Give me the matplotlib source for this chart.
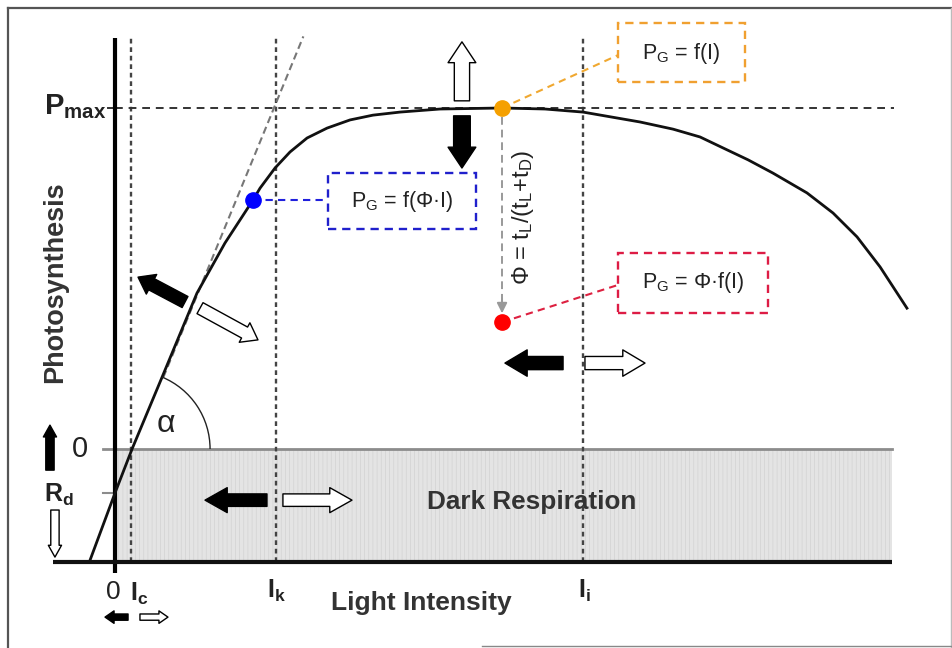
import numpy as np
import matplotlib
matplotlib.use("Agg")
import matplotlib.pyplot as plt
from matplotlib.patches import Arc, Rectangle
from matplotlib.lines import Line2D

plt.rcParams['font.family'] = ['Liberation Sans', 'DejaVu Sans']
plt.rcParams['mathtext.fontset'] = 'custom'
plt.rcParams['mathtext.rm'] = 'Liberation Sans'
plt.rcParams['mathtext.it'] = 'Liberation Sans:italic'
plt.rcParams['mathtext.bf'] = 'Liberation Sans:bold'
plt.rcParams['hatch.linewidth'] = 0.5

# P-I response: light intensity in units of I_k, photosynthesis in units of P_max
light = [-0.155, 0.0, 0.106, 0.298, 0.509, 0.683, 0.857, 0.901, 0.994, 1.087,
         1.193, 1.317, 1.460, 1.602, 1.770, 2.019, 2.404, 2.671, 2.907, 3.261,
         3.466, 3.634, 3.776, 3.932, 4.087, 4.298, 4.460, 4.609, 4.752, 4.919]
photosynthesis = [-0.326, -0.129, 0.0, 0.217, 0.457, 0.604, 0.730, 0.765, 0.824, 0.871,
                  0.912, 0.941, 0.965, 0.979, 0.988, 0.997, 1.0, 0.997, 0.988, 0.959,
                  0.938, 0.915, 0.883, 0.848, 0.809, 0.751, 0.692, 0.622, 0.534, 0.413]

# initial-slope (alpha) line
tangent_light = [0.30, 1.17]
tangent_photo = [0.21, 1.21]

# reference levels
P_MAX = 1.0
R_D = -0.129
I_C = 0.10
I_K = 1.0
I_I = 2.907
P_FLOOR = -0.331          # baseline of the diagram
I_END = 4.826             # right end of the baseline

# highlighted operating points (light, photosynthesis)
point_blue = (0.857, 0.730)
point_orange = (2.404, 1.0)
point_red = (2.404, 0.372)

fig = plt.figure(figsize=(9.53, 6.48), dpi=100)
ax = fig.add_axes([0, 0, 1, 1])
ax.set_xlim(-0.7143, 5.205)
ax.set_ylim(-0.5836, 1.3167)
ax.axis('off')

# outer frame
frame_kw = dict(color='#555555', lw=1.6, transform=fig.transFigure)
fig.add_artist(Line2D([0.0084, 1.0], [0.9877, 0.9877], **frame_kw))
fig.add_artist(Line2D([0.0084, 0.0084], [0.0, 0.9877], **frame_kw))
fig.add_artist(Line2D([0.998, 0.998], [0.0, 0.9877], color='#bbbbbb', lw=1.0, transform=fig.transFigure))
fig.add_artist(Line2D([0.5058, 1.0], [0.003, 0.003], color='#888888', lw=1.0, transform=fig.transFigure))

# dark respiration band
ax.add_patch(Rectangle((0, P_FLOOR), I_END, -P_FLOOR, facecolor='#e4e4e4',
                       edgecolor='#d2d2d2', hatch='||||', lw=0, zorder=1))
ax.plot([-0.075, I_END], [0, 0], color='#8c8c8c', lw=2.0, zorder=2)
ax.plot([-0.075, 0], [R_D, R_D], color='#8c8c8c', lw=1.5, zorder=2)

# reference dashed lines
vd = dict(color='#444444', lw=1.7, linestyle=(0, (2.0, 1.6)), zorder=2)
for xv in (I_C, I_K, I_I):
    ax.plot([xv, xv], [P_FLOOR, 1.205], **vd)
ax.plot([0, 4.84], [P_MAX, P_MAX], color='#333333', lw=1.4, linestyle=(0, (4, 3)), zorder=2)
ax.plot([-0.045, 0], [P_MAX, P_MAX], color='#333333', lw=1.4, zorder=2)
ax.plot(tangent_light, tangent_photo, color='#777777', lw=1.5, linestyle=(0, (3.5, 2)), zorder=2)

# axes of the diagram
ax.plot([0, 0], [-0.364, 1.205], color='black', lw=3.0, zorder=4, solid_capstyle='butt')
ax.plot([-0.385, I_END], [P_FLOOR, P_FLOOR], color='#111111', lw=3.0, zorder=4, solid_capstyle='butt')

# P-I curve
ax.plot(light, photosynthesis, color='#111111', lw=2.0, zorder=5, solid_joinstyle='round')

# alpha angle arc
dx = light[3] - light[2]
dy = photosynthesis[3] - photosynthesis[2]
theta = np.degrees(np.arctan2(dy, dx))
ax.add_patch(Arc((light[2], photosynthesis[2]), 0.969, 0.457, theta1=0, theta2=theta,
                 color='#222222', lw=1.0, zorder=5))
ax.text(0.317, 0.073, 'α', fontsize=23, ha='center', va='center', color='#222222')


def block_arrow(tail, tip, shaft, head, head_len, filled):
    style = f"simple,head_length={head_len / 10},head_width={head / 10},tail_width={shaft / 10}"
    ax.annotate('', xy=tip, xytext=tail,
                arrowprops=dict(arrowstyle=style, mutation_scale=10,
                                fc='black' if filled else 'white', ec='black', lw=1.0,
                                shrinkA=0, shrinkB=0), zorder=6)


# P_max response arrows
block_arrow((2.155, 1.021), (2.155, 1.194), 11, 20, 15, False)
block_arrow((2.155, 0.977), (2.155, 0.824), 12, 20, 15, True)
# alpha response arrows
block_arrow((0.435, 0.431), (0.143, 0.504), 9, 16, 11, True)
block_arrow((0.528, 0.413), (0.888, 0.320), 9, 16, 11, False)
# I_k response arrows
block_arrow((0.944, -0.150), (0.559, -0.150), 9, 18, 16, True)
block_arrow((1.043, -0.150), (1.472, -0.150), 9, 18, 16, False)
# I_i response arrows
block_arrow((2.783, 0.252), (2.422, 0.252), 9.5, 19, 16, True)
block_arrow((2.919, 0.252), (3.292, 0.252), 9.5, 19, 16, False)
# I_c response arrows
block_arrow((0.081, -0.493), (-0.062, -0.493), 4.5, 9, 6.5, True)
block_arrow((0.155, -0.493), (0.329, -0.493), 4.5, 9, 6.5, False)
# R_d response arrows
block_arrow((-0.404, -0.062), (-0.404, 0.070), 6, 9.5, 8.5, True)
block_arrow((-0.373, -0.179), (-0.373, -0.317), 6, 9.5, 8.5, False)

# axis texts
tc = '#222222'
ax.text(-0.055, 1.005, r'$\mathbf{P}_{\mathbf{max}}$', fontsize=21, ha='right', va='center', color=tc)
ax.text(-0.373, 0.49, 'Photosynthesis', fontsize=19.5, fontweight='bold', rotation=90,
        ha='center', va='center', color='#333333')
ax.text(-0.217, 0.0, '0', fontsize=21, ha='center', va='center', color=tc)
ax.text(-0.35, -0.135, r'$\mathbf{R}_{\mathbf{d}}$', fontsize=18, ha='center', va='center', color=tc)
ax.text(-0.012, -0.42, '0', fontsize=19, ha='center', va='center', color=tc)
ax.text(I_C + 0.05, -0.425, r'$\mathbf{I}_{\mathbf{c}}$', fontsize=18, ha='center', va='center', color=tc)
ax.text(I_K, -0.415, r'$\mathbf{I}_{\mathbf{k}}$', fontsize=18, ha='center', va='center', color=tc)
ax.text(I_I + 0.01, -0.415, r'$\mathbf{I}_{\mathbf{i}}$', fontsize=18, ha='center', va='center', color=tc)
ax.text(1.901, -0.452, 'Light Intensity', fontsize=19, fontweight='bold', ha='center',
        va='center', color='#333333')
ax.text(2.59, -0.155, 'Dark Respiration', fontsize=18.8, fontweight='bold', ha='center',
        va='center', color='#333333', zorder=3)

# operating points and their labels
ax.plot(*point_blue, 'o', color='#0000ff', ms=11, zorder=7)
ax.plot(*point_orange, 'o', color='#f5a000', ms=11, zorder=7)
ax.plot(*point_red, 'o', color='#ff0000', ms=11, zorder=7)

box_dash = (0, (3.5, 2.5))
ax.plot([point_blue[0], 1.323], [point_blue[1], point_blue[1]], color='#2020dd', lw=1.5,
        linestyle=box_dash, zorder=6)
ax.add_patch(Rectangle((1.323, 0.645), 0.919, 0.164, fill=False, ec='#2020cc', lw=1.7,
                       linestyle=box_dash, zorder=6))
ax.text(1.783, 0.727, r'$\mathrm{P_G}$ = f(Φ·I)', fontsize=15.5, ha='center', va='center', color=tc)

ax.plot([point_orange[0], 3.124], [point_orange[1], 1.155], color='#f0a830', lw=1.5,
        linestyle=box_dash, zorder=6)
ax.add_patch(Rectangle((3.124, 1.076), 0.789, 0.173, fill=False, ec='#f0a030', lw=1.7,
                       linestyle=box_dash, zorder=6))
ax.text(3.516, 1.161, r'$\mathrm{P_G}$ = f(I)', fontsize=15.5, ha='center', va='center', color=tc)

ax.plot([point_red[0], 3.124], [point_red[1], 0.481], color='#dd2040', lw=1.5,
        linestyle=box_dash, zorder=6)
ax.add_patch(Rectangle((3.124, 0.399), 0.932, 0.176, fill=False, ec='#dd1c45', lw=1.7,
                       linestyle=box_dash, zorder=6))
ax.text(3.59, 0.487, r'$\mathrm{P_G}$ = Φ·f(I)', fontsize=15.5, ha='center', va='center', color=tc)

# light-fraction link between the two operating points
ax.plot([point_orange[0]] * 2, [0.975, 0.43], color='#999999', lw=1.4,
        linestyle=(0, (4, 2.5)), zorder=6)
ax.annotate('', xy=(point_red[0], 0.398), xytext=(point_red[0], 0.44),
            arrowprops=dict(arrowstyle='-|>,head_length=0.6,head_width=0.3', color='#999999',
                            lw=1.4, shrinkA=0, shrinkB=0), zorder=6)
ax.text(2.534, 0.68, r'Φ = t$_\mathrm{L}$/(t$_\mathrm{L}$+t$_\mathrm{D}$)', fontsize=17,
        rotation=90, ha='center', va='center', color=tc)

fig.savefig('out.png', dpi=100)
